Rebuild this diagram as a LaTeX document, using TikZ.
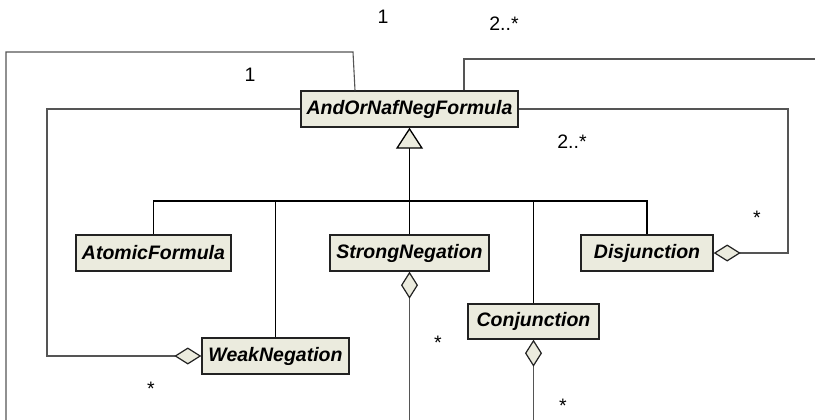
\documentclass[tikz,border=0pt]{standalone}
\usepackage{fontspec}
\setmainfont{Liberation Sans}
\usetikzlibrary{arrows.meta}
\definecolor{boxfill}{HTML}{EBEBDE}
\definecolor{boxline}{HTML}{222222}
\definecolor{assocline}{HTML}{555555}
\begin{document}
\begin{tikzpicture}[x=1pt,y=-1pt,
  cls/.style={draw=boxline, line width=1.4pt, fill=boxfill, inner sep=0pt,
    minimum height=36pt, font=\fontsize{19.5}{22}\selectfont\bfseries\itshape},
  gen/.style={draw=black, line width=1.3pt},
  genhead/.style={gen, -{Triangle[open, fill=boxfill, length=21pt, width=27pt, line width=1.3pt]}},
  assoc/.style={draw=assocline, line width=1.1pt},
  agg/.style={assoc, {Diamond[open, fill=boxfill, length=27pt, width=17pt, line width=1.2pt, color=boxline]}-},
  mult/.style={anchor=base, inner sep=0pt, font=\fontsize{19.5}{22}\selectfont}
]
\useasboundingbox (0,0) rectangle (815,420);
\fill[white] (0,0) rectangle (815,420);

% classes
\node[cls, minimum width=217pt] (andor) at (409.5,109) {AndOrNafNegFormula};
\node[cls, minimum width=155pt] (atomic) at (153.5,253) {AtomicFormula};
\node[cls, minimum width=159pt] (strong) at (409.5,253) {StrongNegation};
\node[cls, minimum width=132pt] (disj) at (647,253) {Disjunction};
\node[cls, minimum width=131pt, minimum height=35pt] (conj) at (533.5,321.5) {Conjunction};
\node[cls, minimum width=147pt] (weak) at (275.5,356) {WeakNegation};

% generalization tree
\coordinate (join) at (409.5,201);
\draw[genhead] (strong.north) -- (andor.south);
\draw[gen] (atomic.north) |- (join);
\draw[gen] (weak.north) |- (join);
\draw[gen] (conj.north) |- (join);
\draw[gen] (disj.north) |- (join);

% aggregations
\coordinate (strongout) at (409.5,422);
\coordinate (conjout) at (533.5,422);
\draw[agg] (strong.south) -- (strongout);
\draw[agg] (conj.south) -- (conjout);
\draw[agg] (disj.east) -- (788,253) |- (andor.east);
\draw[agg] (weak.west) -- (47,356) |- (andor.west);

% associations leaving the top of the root class
\coordinate (leftout) at (6,422);
\coordinate (rightout) at (817,59);
\draw[assoc] ([xshift=-54.5pt]andor.north) -- (353,52) -- (6,52) -- (leftout);
\draw[assoc] ([xshift=54.5pt]andor.north) |- (rightout);

% multiplicities
\node[mult] at (383,24) {1};
\node[mult] at (504,31) {2..*};
\node[mult] at (250,82) {1};
\node[mult] at (572,149) {2..*};
\node[mult] at (757,224) {*};
\node[mult] at (151,395) {*};
\node[mult] at (438,349) {*};
\node[mult] at (563,412) {*};
\end{tikzpicture}
\end{document}
